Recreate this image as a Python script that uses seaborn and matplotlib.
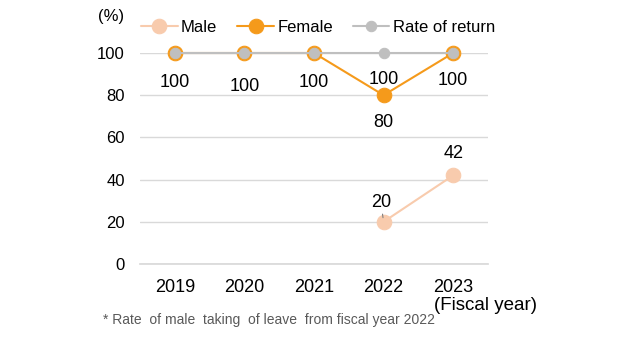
import numpy as np
import pandas as pd
import matplotlib
matplotlib.use("Agg")
import matplotlib.pyplot as plt
import seaborn as sns

years = ["2019", "2020", "2021", "2022", "2023"]
male = [np.nan, np.nan, np.nan, 20, 42]
female = [100, 100, 100, 80, 100]
rate_of_return = [100, 100, 100, 100, 100]
yticks = [0, 20, 40, 60, 80, 100]

c_male = "#F8CBAD"
c_female = "#F59A1B"
c_return = "#BFBFBF"

sns.set_theme(style="white")
plt.rcParams["font.family"] = ["Liberation Sans", "DejaVu Sans"]
plt.rcParams["text.color"] = "black"
plt.rcParams["xtick.color"] = "black"
plt.rcParams["ytick.color"] = "black"

fig = plt.figure(figsize=(6.3, 3.43), dpi=100)
ax = fig.add_axes([140 / 630, 1 - 264 / 343, 348 / 630, (264 - 53) / 343])

df = pd.DataFrame({"year": years, "Male": male, "Female": female,
                   "Rate of return": rate_of_return})
x = np.arange(len(years))

sns.lineplot(x=x, y=df["Male"], ax=ax, color=c_male, marker="o", markersize=10.5,
             markeredgecolor=c_male, linewidth=1.5, label="Male", zorder=3, clip_on=False)
sns.lineplot(x=x, y=df["Female"], ax=ax, color=c_female, marker="o", markersize=10.5,
             markeredgecolor=c_female, linewidth=1.5, label="Female", zorder=4, clip_on=False)
sns.lineplot(x=x, y=df["Rate of return"], ax=ax, color=c_return, marker="o", markersize=7.5,
             markeredgecolor=c_return, linewidth=1.5, label="Rate of return", zorder=5,
             clip_on=False)

ax.set_xlim(-0.5, len(years) - 0.5)
ax.set_ylim(0, 100)
ax.set_yticks(yticks)
ax.set_yticklabels([str(v) for v in yticks], fontsize=12)
ax.set_xticks(x)
ax.set_xticklabels(years, fontsize=13)
ax.tick_params(axis="x", length=0, pad=11)
ax.tick_params(axis="y", length=0, pad=11)
ax.grid(axis="y", color="#D9D9D9", linewidth=1)
ax.set_axisbelow(True)
for s in ["top", "right", "left"]:
    ax.spines[s].set_visible(False)
ax.spines["bottom"].set_color("#D9D9D9")
ax.set_xlabel("")
ax.set_ylabel("")

# value labels for rate of return
ret_offsets = [-21, -24, -21, -19, -20]
for i, v in enumerate(rate_of_return):
    ax.annotate(f"{v}", (i, v), xytext=(0, ret_offsets[i]), textcoords="offset points",
                ha="center", va="center", fontsize=13, color="black")

# female label at the dip
ax.annotate(f"{female[3]}", (3, female[3]), xytext=(0, -20), textcoords="offset points",
            ha="center", va="center", fontsize=13, color="black",
            arrowprops=dict(arrowstyle="-", color="#404040", lw=0.8, shrinkA=7, shrinkB=5))

# male labels
ax.annotate(f"{male[3]}", (3, male[3]), xytext=(-2, 14), textcoords="offset points",
            ha="center", va="center", fontsize=13, color="black",
            arrowprops=dict(arrowstyle="-", color="#808080", lw=0.8, shrinkA=7, shrinkB=3))
ax.annotate(f"{male[4]}", (4, male[4]), xytext=(0, 16), textcoords="offset points",
            ha="center", va="center", fontsize=13, color="black")

leg = ax.legend(loc="center", ncol=3, frameon=False, fontsize=12, handlelength=2.2,
                handletextpad=0.2, columnspacing=1.2, borderaxespad=0, borderpad=0)
leg.set_bbox_to_anchor((318 / 630, 1 - 27 / 343), transform=fig.transFigure)

fig.text(111 / 630, 1 - 17 / 343, "(%)", ha="center", va="center", fontsize=12)
fig.text(485 / 630, 1 - 305 / 343, "(Fiscal year)", ha="center", va="center", fontsize=13.5)
fig.text(103 / 630, 1 - 320 / 343, "* Rate  of male  taking  of leave  from fiscal year 2022",
         ha="left", va="center", fontsize=10, color="#595959")

fig.savefig("out.png", dpi=100)
